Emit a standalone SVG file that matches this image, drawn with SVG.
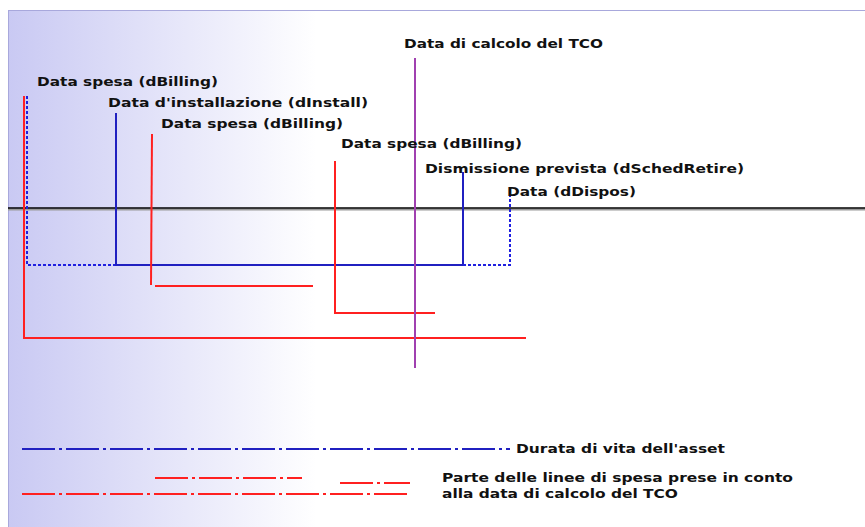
<svg xmlns="http://www.w3.org/2000/svg" width="865" height="527" viewBox="0 0 865 527">
<defs>
<linearGradient id="bg" x1="0" y1="0" x2="1" y2="0" gradientUnits="objectBoundingBox">
<stop offset="0" stop-color="#c9c9f3"/>
<stop offset="0.36" stop-color="#ffffff"/>
<stop offset="1" stop-color="#ffffff"/>
</linearGradient>
</defs>
<style>
text{font-family:"DejaVu Sans","Verdana",sans-serif;font-weight:bold;font-size:13px;fill:#111}
.red{stroke:#ff2020;stroke-width:2;fill:none}
.blue{stroke:#2020c0;stroke-width:2;fill:none}
.dot{stroke:#2020e0;stroke-width:2;stroke-dasharray:3 2;fill:none}
.dd{stroke-width:2;stroke-dasharray:33 4 3 4;fill:none}
</style>
<rect x="0" y="0" width="865" height="527" fill="#ffffff"/>
<rect x="8" y="10" width="857" height="517" fill="url(#bg)"/>
<line x1="8" y1="10.5" x2="865" y2="10.5" stroke="#a8a8dc" stroke-width="1"/>
<line x1="8.5" y1="10" x2="8.5" y2="527" stroke="#a8a8dc" stroke-width="1"/>

<g id="axis">
<line x1="8" y1="209.5" x2="865" y2="209.5" stroke="#999" stroke-width="2"/>
<line x1="8" y1="208" x2="865" y2="208" stroke="#000" stroke-width="1.6"/>
</g>

<g id="connectors">
<polyline class="red" points="24,96 24,338 526,338"/>
<polyline class="dot" points="27,96 27,265 116,265"/>
<polyline class="blue" points="116,113 116,265 463,265 463,172"/>
<polyline class="dot" points="463,265 510,265 510,196"/>
<line class="red" x1="152" y1="134" x2="151" y2="285"/>
<line class="red" x1="155" y1="286" x2="313" y2="286"/>
<polyline class="red" points="335,161 335,313 435,313"/>
<line x1="415" y1="58" x2="415" y2="368" stroke="#a040b0" stroke-width="2"/>
</g>

<g id="label-billing1"><text x="37" y="86" textLength="181" lengthAdjust="spacingAndGlyphs">Data spesa (dBilling)</text></g>
<g id="label-install"><text x="108" y="107" textLength="260" lengthAdjust="spacingAndGlyphs">Data d'installazione (dInstall)</text></g>
<g id="label-billing2"><text x="161" y="128" textLength="182" lengthAdjust="spacingAndGlyphs">Data spesa (dBilling)</text></g>
<g id="label-tco"><text x="404" y="48" textLength="199" lengthAdjust="spacingAndGlyphs">Data di calcolo del TCO</text></g>
<g id="label-billing3"><text x="341" y="148" textLength="181" lengthAdjust="spacingAndGlyphs">Data spesa (dBilling)</text></g>
<g id="label-retire"><text x="425" y="173" textLength="319" lengthAdjust="spacingAndGlyphs">Dismissione prevista (dSchedRetire)</text></g>
<g id="label-dispos"><text x="507" y="196" textLength="129" lengthAdjust="spacingAndGlyphs">Data (dDispos)</text></g>

<g id="legend">
<line class="dd" x1="22" y1="449" x2="510" y2="449" stroke="#2020c0"/>
<line class="dd" x1="155" y1="478" x2="302" y2="478" stroke="#ff2020"/>
<line class="dd" x1="340" y1="483" x2="410" y2="483" stroke="#ff2020"/>
<line class="dd" x1="22" y1="494" x2="411" y2="494" stroke="#ff2020"/>
<text x="516" y="453" textLength="209" lengthAdjust="spacingAndGlyphs">Durata di vita dell'asset</text>
<text x="442" y="482" textLength="351" lengthAdjust="spacingAndGlyphs">Parte delle linee di spesa prese in conto</text>
<text x="442" y="498" textLength="236" lengthAdjust="spacingAndGlyphs">alla data di calcolo del TCO</text>
</g>
</svg>
